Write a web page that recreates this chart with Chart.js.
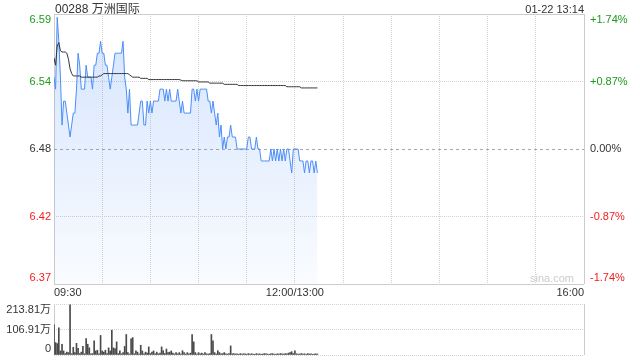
<!DOCTYPE html>
<html>
<head>
<meta charset="utf-8">
<title>00288 万洲国际</title>
<script src="https://cdn.jsdelivr.net/npm/chart.js@4.4.1/dist/chart.umd.min.js"></script>
<style>
  body { margin: 0; background: #fff; }
  #wrap { position: relative; width: 640px; height: 360px; font-family: "Liberation Sans", "Noto Sans CJK SC", sans-serif; color: #333; }
  #wrap canvas { position: absolute; left: 0; }
  #priceChart { top: 0; }
  #volChart { top: 300px; }
  .txt { position: absolute; white-space: nowrap; line-height: 14px; }
  #title { left: 55px; top: 2px; font-size: 12px; }
  #stamp { right: 56px; top: 2px; font-size: 11px; }
  #mark { right: 66px; top: 271px; font-size: 11px; color: #ccc; }
</style>
</head>
<body>
<div id="wrap">
  <canvas id="priceChart" width="640" height="300"></canvas>
  <canvas id="volChart" width="640" height="60"></canvas>
  <div class="txt" id="title">00288 万洲国际</div>
  <div class="txt" id="stamp">01-22 13:14</div>
  <div class="txt" id="mark">sina.com</div>
</div>
<script>
// previous close and the axis ticks
const prevClose = 6.48;
const pctSteps = [-1.74, -0.87, 0, 0.87, 1.74];
const priceTicks = ['6.37', '6.42', '6.48', '6.54', '6.59'];
const pctTicks = ['-1.74%', '-0.87%', '0.00%', '+0.87%', '+1.74%'];
const timeTickMinutes = [0, 150, 330];
const timeTickLabels = ['09:30', '12:00/13:00', '16:00'];
const volTickValues = [0, 106.91, 213.81];
const volTicks = ['0', '106.91万', '213.81万'];

// one value per trading minute from 09:30
const prices = [
  6.54, 6.53, 6.59, 6.57, 6.54, 6.50, 6.52, 6.52, 6.51, 6.50,
  6.49, 6.50, 6.51, 6.51, 6.53, 6.56, 6.55, 6.53, 6.53, 6.53,
  6.55, 6.54, 6.54, 6.54, 6.53, 6.55, 6.55, 6.56, 6.56, 6.57,
  6.56, 6.56, 6.55, 6.55, 6.54, 6.53, 6.54, 6.55, 6.56, 6.56,
  6.56, 6.56, 6.56, 6.57, 6.54, 6.53, 6.51, 6.53, 6.50, 6.50,
  6.50, 6.50, 6.50, 6.51, 6.52, 6.52, 6.50, 6.50, 6.52, 6.51,
  6.52, 6.51, 6.52, 6.52, 6.52, 6.52, 6.53, 6.53, 6.53, 6.52,
  6.53, 6.52, 6.53, 6.52, 6.52, 6.52, 6.52, 6.53, 6.52, 6.51,
  6.52, 6.51, 6.51, 6.51, 6.51, 6.51, 6.53, 6.53, 6.52, 6.53,
  6.52, 6.53, 6.53, 6.53, 6.53, 6.53, 6.52, 6.52, 6.51, 6.52,
  6.51, 6.50, 6.51, 6.49, 6.50, 6.48, 6.49, 6.48, 6.49, 6.49,
  6.50, 6.49, 6.49, 6.49, 6.48, 6.48, 6.48, 6.48, 6.48, 6.48,
  6.48, 6.49, 6.49, 6.48, 6.48, 6.48, 6.49, 6.48, 6.48, 6.47,
  6.47, 6.47, 6.47, 6.47, 6.47, 6.48, 6.47, 6.48, 6.47, 6.48,
  6.47, 6.48, 6.47, 6.48, 6.47, 6.48, 6.48, 6.47, 6.46, 6.48,
  6.48, 6.48, 6.48, 6.47, 6.47, 6.47, 6.46, 6.47, 6.47, 6.46,
  6.47, 6.47, 6.46, 6.47, 6.46
];
const avgPrices = [
  6.556, 6.550, 6.566, 6.569, 6.562, 6.561, 6.561, 6.561, 6.560, 6.555,
  6.547, 6.543, 6.541, 6.541, 6.541, 6.541, 6.541, 6.540, 6.540, 6.540,
  6.540, 6.540, 6.540, 6.540, 6.540, 6.540, 6.540, 6.540, 6.541, 6.541,
  6.542, 6.543, 6.543, 6.543, 6.543, 6.543, 6.543, 6.543, 6.543, 6.543,
  6.543, 6.543, 6.543, 6.543, 6.543, 6.543, 6.543, 6.542, 6.541, 6.540,
  6.540, 6.540, 6.540, 6.540, 6.539, 6.539, 6.539, 6.539, 6.539, 6.538,
  6.538, 6.538, 6.538, 6.538, 6.538, 6.538, 6.538, 6.538, 6.538, 6.538,
  6.538, 6.538, 6.538, 6.538, 6.538, 6.538, 6.538, 6.538, 6.538, 6.5375,
  6.537, 6.537, 6.537, 6.537, 6.537, 6.537, 6.537, 6.537, 6.537, 6.537,
  6.536, 6.536, 6.536, 6.536, 6.536, 6.536, 6.536, 6.535, 6.535, 6.535,
  6.535, 6.535, 6.535, 6.535, 6.535, 6.535, 6.534, 6.534, 6.534, 6.534,
  6.534, 6.534, 6.534, 6.534, 6.534, 6.533, 6.533, 6.533, 6.533, 6.533,
  6.533, 6.533, 6.533, 6.533, 6.533, 6.533, 6.533, 6.533, 6.533, 6.533,
  6.533, 6.533, 6.533, 6.533, 6.533, 6.533, 6.533, 6.533, 6.533, 6.533,
  6.533, 6.533, 6.533, 6.533, 6.533, 6.532, 6.532, 6.532, 6.532, 6.532,
  6.532, 6.532, 6.532, 6.532, 6.531, 6.531, 6.531, 6.531, 6.531, 6.531,
  6.531, 6.531, 6.531, 6.531, 6.531
];
// volume in 万 shares
const volumes = [
  127, 52, 48, 114, 17, 45, 17, 6, 12, 10,
  210, 5, 32, 10, 49, 28, 6, 12, 36, 5,
  69, 45, 30, 5, 6, 59, 17, 20, 5, 82,
  17, 12, 20, 6, 30, 17, 104, 30, 27, 55,
  6, 17, 5, 10, 36, 86, 10, 4, 68, 73,
  5, 17, 12, 4, 41, 17, 5, 12, 8, 34,
  6, 12, 17, 5, 12, 5, 8, 34, 18, 6,
  25, 10, 12, 17, 8, 4, 10, 5, 10, 4,
  18, 10, 4, 10, 5, 8, 86, 55, 10, 4,
  10, 5, 8, 4, 10, 5, 4, 6, 86, 59,
  10, 4, 18, 10, 5, 6, 10, 5, 4, 6,
  38, 5, 6, 4, 5, 3, 6, 4, 5, 5,
  3, 6, 4, 5, 4, 3, 6, 4, 5, 3,
  4, 6, 5, 4, 3, 5, 6, 4, 3, 5,
  4, 6, 5, 4, 6, 5, 8, 10, 14, 6,
  18, 5, 4, 4, 6, 4, 5, 3, 6, 4,
  5, 3, 4, 5, 4
];
const minutes = prices.map((_, i) => i);

const GREEN = '#1a9b1a', RED = '#f02020', DARK = '#333';
const tickColors = [RED, RED, DARK, GREEN, GREEN];
const FONT = '11px "Liberation Sans", "Noto Sans CJK SC", sans-serif';
const DOT = '#d2d2d2';

Chart.defaults.font.family = '"Liberation Sans", "Noto Sans CJK SC", sans-serif';
Chart.defaults.font.size = 11;
Chart.defaults.color = '#333';

// y labels beside the plot, kept inside the box at the top and bottom
function sideLabels(sets, inset) {
  return {
    id: 'sideLabels',
    afterDraw(chart) {
      const { ctx, chartArea } = chart;
      const scale = chart.scales.y;
      ctx.save();
      ctx.font = FONT;
      ctx.textBaseline = 'middle';
      sets.forEach(set => {
        ctx.textAlign = set.left ? 'right' : 'left';
        const x = set.left ? chartArea.left - 3 : chartArea.right + 6;
        scale.ticks.forEach((t, i) => {
          const y = Math.min(Math.max(scale.getPixelForValue(t.value), chartArea.top + inset), chartArea.bottom - inset);
          ctx.fillStyle = set.colors[i];
          ctx.fillText(set.labels[i], x, y);
        });
      });
      ctx.restore();
    }
  };
}

new Chart(document.getElementById('priceChart'), {
  type: 'line',
  data: {
    labels: minutes,
    datasets: [{
      label: '均价',
      data: avgPrices,
      borderColor: '#333',
      borderWidth: 1,
      pointRadius: 0,
      fill: false
    }, {
      label: '价格',
      data: prices,
      borderColor: '#4b8df8',
      borderWidth: 1,
      pointRadius: 0,
      fill: 'start',
      backgroundColor: c => {
        const area = c.chart.chartArea;
        if (!area) return 'rgba(75,141,248,0.1)';
        const g = c.chart.ctx.createLinearGradient(0, area.top, 0, area.bottom);
        g.addColorStop(0, 'rgba(75,141,248,0.24)');
        g.addColorStop(1, 'rgba(75,141,248,0.03)');
        return g;
      }
    }]
  },
  options: {
    responsive: false,
    animation: false,
    layout: { padding: { top: 14, right: 56 } },
    plugins: { legend: { display: false }, tooltip: { enabled: false } },
    scales: {
      x: {
        type: 'linear', min: 0, max: 330,
        ticks: {
          stepSize: 30, autoSkip: false, maxRotation: 0, align: 'inner', padding: 2,
          callback: v => {
            const i = timeTickMinutes.indexOf(v);
            return i < 0 ? '' : timeTickLabels[i];
          }
        },
        grid: { drawTicks: false, color: c => (c.index === 0 || c.index === 11) ? '#ccc' : DOT },
        border: { display: false, dash: c => (c.index === 0 || c.index === 11) ? [] : [1, 1] },
        afterFit: s => { s.height = 16; }
      },
      y: {
        min: prevClose * (1 + pctSteps[0] / 100),
        max: prevClose * (1 + pctSteps[4] / 100),
        afterBuildTicks: s => { s.ticks = pctSteps.map(p => ({ value: prevClose * (1 + p / 100) })); },
        ticks: { display: false },
        grid: { drawTicks: false, color: c => c.index === 2 ? '#a8a8a8' : (c.index === 0 || c.index === 4) ? '#ccc' : DOT },
        border: { display: false, dash: c => c.index === 2 ? [3, 3] : (c.index === 0 || c.index === 4) ? [] : [1, 1] },
        afterFit: s => { s.width = 54; }
      }
    }
  },
  plugins: [sideLabels([
    { left: true, labels: priceTicks, colors: tickColors },
    { left: false, labels: pctTicks, colors: tickColors }
  ], 6)]
});

new Chart(document.getElementById('volChart'), {
  type: 'bar',
  data: {
    labels: minutes,
    datasets: [{ data: volumes, backgroundColor: '#4a4a4a', barThickness: 1, borderWidth: 0 }]
  },
  options: {
    responsive: false,
    animation: false,
    layout: { padding: { top: 4, right: 56, bottom: 5 } },
    plugins: { legend: { display: false }, tooltip: { enabled: false } },
    scales: {
      x: {
        type: 'linear', min: 0, max: 330, offset: false,
        afterBuildTicks: s => { s.ticks = [{ value: 0 }, { value: 330 }]; },
        ticks: { display: false },
        grid: { drawTicks: false, offset: false, color: '#ccc' },
        border: { display: false },
        afterFit: s => { s.height = 0; }
      },
      y: {
        min: 0, max: volTickValues[2],
        afterBuildTicks: s => { s.ticks = volTickValues.map(v => ({ value: v })); },
        ticks: { display: false },
        grid: { drawTicks: false, color: DOT },
        border: { display: false, dash: [1, 1] },
        afterFit: s => { s.width = 54; }
      }
    }
  },
  plugins: [sideLabels([{ left: true, labels: volTicks, colors: [DARK, DARK, DARK] }], 6)]
});
</script>
</body>
</html>
